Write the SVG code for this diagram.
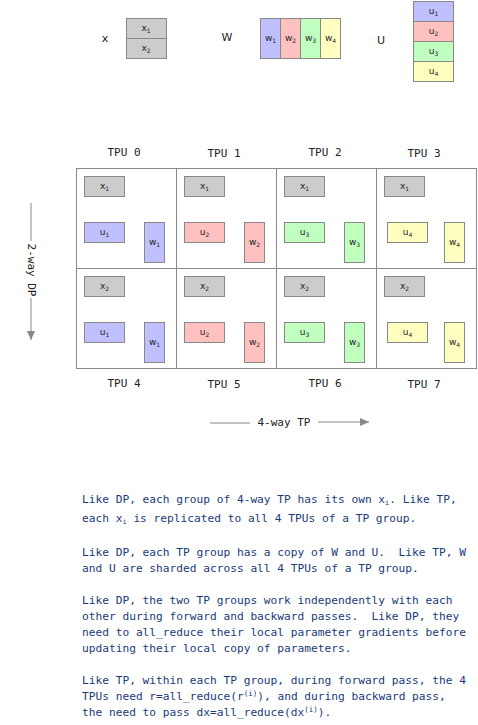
<svg xmlns="http://www.w3.org/2000/svg" width="478" height="725" viewBox="0 0 478 725">
<style>
  .bx { stroke: #888888; stroke-width: 1; }
  .g { fill: #cccccc; }
  .c1 { fill: #c0c0ff; }
  .c2 { fill: #ffc0c0; }
  .c3 { fill: #c0ffc0; }
  .c4 { fill: #ffffc0; }
  .lbl { font-family: "DejaVu Sans", "Liberation Sans", sans-serif; font-size: 9px; fill: #222222; text-anchor: middle; }
  .sub { font-size: 6px; }
  .big { font-family: "DejaVu Sans", "Liberation Sans", sans-serif; font-size: 11px; fill: #222222; text-anchor: middle; }
  .tpu { font-family: "DejaVu Sans Mono", "Liberation Mono", monospace; font-size: 11px; fill: #222222; text-anchor: middle; }
  .grid { fill: none; stroke: #888888; stroke-width: 1; }
  .conn { stroke: #888888; stroke-width: 1; fill: none; }
  .para { font-family: "DejaVu Sans Mono", "Liberation Mono", monospace; font-size: 11.2px; fill: #1a3a78; white-space: pre; }
</style>
<defs>
  <marker id="ah" markerWidth="10" markerHeight="8" refX="9" refY="4" orient="auto" markerUnits="userSpaceOnUse">
    <path d="M0,0 L9,4 L0,8 Z" fill="#888888"/>
  </marker>
</defs>
<rect width="478" height="725" fill="#ffffff"/>

<!-- top legend -->
<g id="legend-x">
  <text class="big" x="105" y="42">x</text>
  <rect class="bx g" x="126.5" y="18.5" width="40" height="20"/>
  <rect class="bx g" x="126.5" y="38.5" width="40" height="20"/>
  <text class="lbl" x="146" y="31">x<tspan class="sub" dy="2">1</tspan></text>
  <text class="lbl" x="146" y="51">x<tspan class="sub" dy="2">2</tspan></text>
</g>
<g id="legend-w">
  <text class="big" x="227" y="41">W</text>
  <rect class="bx c1" x="260.5" y="18.5" width="20" height="40"/>
  <rect class="bx c2" x="280.5" y="18.5" width="20" height="40"/>
  <rect class="bx c3" x="300.5" y="18.5" width="20" height="40"/>
  <rect class="bx c4" x="320.5" y="18.5" width="20" height="40"/>
  <text class="lbl" x="270.5" y="41">w<tspan class="sub" dy="2">1</tspan></text>
  <text class="lbl" x="290.5" y="41">w<tspan class="sub" dy="2">2</tspan></text>
  <text class="lbl" x="310.5" y="41">w<tspan class="sub" dy="2">3</tspan></text>
  <text class="lbl" x="330.5" y="41">w<tspan class="sub" dy="2">4</tspan></text>
</g>
<g id="legend-u">
  <text class="big" x="381" y="44">U</text>
  <rect class="bx c1" x="413.5" y="1.5" width="40" height="20"/>
  <rect class="bx c2" x="413.5" y="21.5" width="40" height="20"/>
  <rect class="bx c3" x="413.5" y="41.5" width="40" height="20"/>
  <rect class="bx c4" x="413.5" y="61.5" width="40" height="20"/>
  <text class="lbl" x="433.5" y="14">u<tspan class="sub" dy="2">1</tspan></text>
  <text class="lbl" x="433.5" y="34">u<tspan class="sub" dy="2">2</tspan></text>
  <text class="lbl" x="433.5" y="54">u<tspan class="sub" dy="2">3</tspan></text>
  <text class="lbl" x="433.5" y="74">u<tspan class="sub" dy="2">4</tspan></text>
</g>

<!-- grid -->
<g id="grid">
  <rect class="grid" x="76.5" y="168.5" width="400" height="200"/>
  <line class="grid" x1="176.5" y1="168.5" x2="176.5" y2="368.5"/>
  <line class="grid" x1="276.5" y1="168.5" x2="276.5" y2="368.5"/>
  <line class="grid" x1="376.5" y1="168.5" x2="376.5" y2="368.5"/>
  <line class="grid" x1="76.5" y1="268.5" x2="476.5" y2="268.5"/>
</g>

<!-- TPU 0 -->
<g id="tpu0">
  <text class="tpu" x="124" y="156">TPU 0</text>
  <rect class="bx g" x="84.5" y="176.5" width="40" height="20"/>
  <text class="lbl" x="104.5" y="189">x<tspan class="sub" dy="2">1</tspan></text>
  <rect class="bx c1" x="84.5" y="222.5" width="40" height="20"/>
  <text class="lbl" x="104.5" y="235">u<tspan class="sub" dy="2">1</tspan></text>
  <rect class="bx c1" x="144.5" y="222.5" width="20" height="40"/>
  <text class="lbl" x="154.5" y="245">w<tspan class="sub" dy="2">1</tspan></text>
</g>
<!-- TPU 1 -->
<g id="tpu1">
  <text class="tpu" x="224" y="157">TPU 1</text>
  <rect class="bx g" x="184.5" y="176.5" width="40" height="20"/>
  <text class="lbl" x="204.5" y="189">x<tspan class="sub" dy="2">1</tspan></text>
  <rect class="bx c2" x="184.5" y="222.5" width="40" height="20"/>
  <text class="lbl" x="204.5" y="235">u<tspan class="sub" dy="2">2</tspan></text>
  <rect class="bx c2" x="244.5" y="222.5" width="20" height="40"/>
  <text class="lbl" x="254.5" y="245">w<tspan class="sub" dy="2">2</tspan></text>
</g>
<!-- TPU 2 -->
<g id="tpu2">
  <text class="tpu" x="325" y="156">TPU 2</text>
  <rect class="bx g" x="284.5" y="176.5" width="40" height="20"/>
  <text class="lbl" x="304.5" y="189">x<tspan class="sub" dy="2">1</tspan></text>
  <rect class="bx c3" x="284.5" y="222.5" width="40" height="20"/>
  <text class="lbl" x="304.5" y="235">u<tspan class="sub" dy="2">3</tspan></text>
  <rect class="bx c3" x="344.5" y="222.5" width="20" height="40"/>
  <text class="lbl" x="354.5" y="245">w<tspan class="sub" dy="2">3</tspan></text>
</g>
<!-- TPU 3 -->
<g id="tpu3">
  <text class="tpu" x="424" y="157">TPU 3</text>
  <rect class="bx g" x="384.5" y="176.5" width="40" height="20"/>
  <text class="lbl" x="404.5" y="189">x<tspan class="sub" dy="2">1</tspan></text>
  <rect class="bx c4" x="387.5" y="222.5" width="40" height="20"/>
  <text class="lbl" x="407.5" y="235">u<tspan class="sub" dy="2">4</tspan></text>
  <rect class="bx c4" x="444.5" y="222.5" width="20" height="40"/>
  <text class="lbl" x="454.5" y="245">w<tspan class="sub" dy="2">4</tspan></text>
</g>
<!-- TPU 4 -->
<g id="tpu4">
  <text class="tpu" x="124" y="387">TPU 4</text>
  <rect class="bx g" x="84.5" y="276.5" width="40" height="20"/>
  <text class="lbl" x="104.5" y="289">x<tspan class="sub" dy="2">2</tspan></text>
  <rect class="bx c1" x="84.5" y="322.5" width="40" height="20"/>
  <text class="lbl" x="104.5" y="335">u<tspan class="sub" dy="2">1</tspan></text>
  <rect class="bx c1" x="144.5" y="322.5" width="20" height="40"/>
  <text class="lbl" x="154.5" y="345">w<tspan class="sub" dy="2">1</tspan></text>
</g>
<!-- TPU 5 -->
<g id="tpu5">
  <text class="tpu" x="224" y="388">TPU 5</text>
  <rect class="bx g" x="184.5" y="276.5" width="40" height="20"/>
  <text class="lbl" x="204.5" y="289">x<tspan class="sub" dy="2">2</tspan></text>
  <rect class="bx c2" x="184.5" y="322.5" width="40" height="20"/>
  <text class="lbl" x="204.5" y="335">u<tspan class="sub" dy="2">2</tspan></text>
  <rect class="bx c2" x="244.5" y="322.5" width="20" height="40"/>
  <text class="lbl" x="254.5" y="345">w<tspan class="sub" dy="2">2</tspan></text>
</g>
<!-- TPU 6 -->
<g id="tpu6">
  <text class="tpu" x="325" y="387">TPU 6</text>
  <rect class="bx g" x="284.5" y="276.5" width="40" height="20"/>
  <text class="lbl" x="304.5" y="289">x<tspan class="sub" dy="2">2</tspan></text>
  <rect class="bx c3" x="284.5" y="322.5" width="40" height="20"/>
  <text class="lbl" x="304.5" y="335">u<tspan class="sub" dy="2">3</tspan></text>
  <rect class="bx c3" x="344.5" y="322.5" width="20" height="40"/>
  <text class="lbl" x="354.5" y="345">w<tspan class="sub" dy="2">3</tspan></text>
</g>
<!-- TPU 7 -->
<g id="tpu7">
  <text class="tpu" x="424" y="388">TPU 7</text>
  <rect class="bx g" x="384.5" y="276.5" width="40" height="20"/>
  <text class="lbl" x="404.5" y="289">x<tspan class="sub" dy="2">2</tspan></text>
  <rect class="bx c4" x="387.5" y="322.5" width="40" height="20"/>
  <text class="lbl" x="407.5" y="335">u<tspan class="sub" dy="2">4</tspan></text>
  <rect class="bx c4" x="444.5" y="322.5" width="20" height="40"/>
  <text class="lbl" x="454.5" y="345">w<tspan class="sub" dy="2">4</tspan></text>
</g>

<!-- connectors -->
<g id="connectors">
  <line class="conn" x1="31" y1="203" x2="31" y2="241"/>
  <line class="conn" x1="31" y1="298" x2="31" y2="340" marker-end="url(#ah)"/>
  <line class="conn" x1="210" y1="423" x2="250" y2="423"/>
  <line class="conn" x1="318" y1="422" x2="369" y2="422" marker-end="url(#ah)"/>
</g>
<g id="axis-labels">
  <text class="tpu" transform="translate(27.5,270) rotate(90)" x="0" y="0">2-way DP</text>
  <text class="tpu" x="284" y="426">4-way TP</text>
</g>

<!-- paragraphs -->
<g id="notes" class="para">
  <text x="82" y="503" xml:space="preserve">Like DP, each group of 4-way TP has its own x<tspan font-size="7" dy="2">i</tspan><tspan dy="-2">. Like TP,</tspan></text>
  <text x="82" y="522" xml:space="preserve">each x<tspan font-size="7" dy="2">i</tspan><tspan dy="-2"> is replicated to all 4 TPUs of a TP group.</tspan></text>
  <text x="82" y="556" xml:space="preserve">Like DP, each TP group has a copy of W and U.  Like TP, W</text>
  <text x="82" y="572" xml:space="preserve">and U are sharded across all 4 TPUs of a TP group.</text>
  <text x="82" y="604" xml:space="preserve">Like DP, the two TP groups work independently with each</text>
  <text x="82" y="620" xml:space="preserve">other during forward and backward passes.  Like DP, they</text>
  <text x="82" y="636" xml:space="preserve">need to all_reduce their local parameter gradients before</text>
  <text x="82" y="652" xml:space="preserve">updating their local copy of parameters.</text>
  <text x="82" y="684" xml:space="preserve">Like TP, within each TP group, during forward pass, the 4</text>
  <text x="82" y="700" xml:space="preserve">TPUs need r=all_reduce(r<tspan font-size="7.5" dy="-4">(i)</tspan><tspan dy="4">), and during backward pass,</tspan></text>
  <text x="82" y="716" xml:space="preserve">the need to pass dx=all_reduce(dx<tspan font-size="7.5" dy="-4">(i)</tspan><tspan dy="4">).</tspan></text>
</g>
</svg>
